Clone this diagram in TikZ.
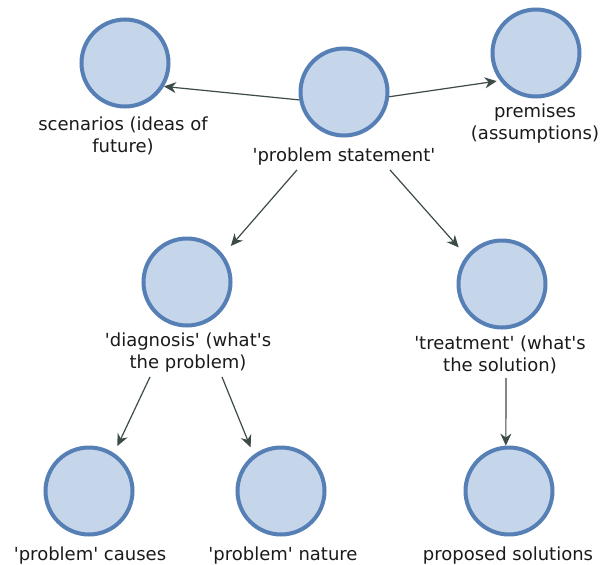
\documentclass[tikz,border=0pt]{standalone}
\usepackage{fontspec}
\setmainfont{DejaVu Sans}[Ligatures=TeXOff]
\usetikzlibrary{arrows.meta}
\definecolor{cfill}{HTML}{C5D5EA}
\definecolor{cdraw}{HTML}{5680B5}
\definecolor{carr}{HTML}{3C4A48}
\definecolor{ctxt}{HTML}{1A1A1A}
\tikzset{
  bubble/.style={circle, minimum size=87pt, inner sep=0pt, fill=cfill, draw=cdraw, line width=4pt},
  lbl/.style={align=center, font=\fontsize{18}{22}\selectfont, text=ctxt, inner sep=0pt},
  arr/.style={draw=carr, line width=1.2pt, -{Stealth[length=12pt,width=11pt]}}
}
\begin{document}
\begin{tikzpicture}[x=1pt,y=-1pt]
\useasboundingbox (0,0) rectangle (603,565);
% circles
\node[bubble] (scen) at (125,63) {};
\node[bubble] (ps) at (344,92) {};
\node[bubble] (prem) at (536,53) {};
\node[bubble] (diag) at (187,282) {};
\node[bubble] (treat) at (502,284) {};
\node[bubble] (caus) at (89,491) {};
\node[bubble] (nat) at (281,491) {};
\node[bubble] (prop) at (509,491) {};
% labels
\node[lbl] (scenl) at (123,136) {scenarios (ideas of\\future)};
\node[lbl] (psl) at (344,157) {'problem statement'};
\node[lbl] (preml) at (535,124) {premises\\(assumptions)};
\node[lbl] (diagl) at (188,353) {'diagnosis' (what's\\the problem)};
\node[lbl] (treatl) at (500,355) {'treatment' (what's\\the solution)};
\node[lbl] (causl) at (90,556) {'problem' causes};
\node[lbl] (natl) at (283,556) {'problem' nature};
\node[lbl] (propl) at (508,556) {proposed solutions};
% connectors
\draw[arr] (ps.190) -- (scen.-31);
\draw[arr] (ps.-6) -- ([shift={(-2pt,-2pt)}]prem.215);
\draw[arr] ([xshift=-47pt,yshift=-4pt]psl.south) -- ([shift={(8pt,8pt)}]diag.38);
\draw[arr] ([xshift=46pt,yshift=-4pt]psl.south) -- ([shift={(-8pt,8pt)}]treat.141);
\draw[arr] ([xshift=-38pt,yshift=-4pt]diagl.south) -- ([shift={(5pt,6pt)}]caus.59);
\draw[arr] ([xshift=34pt,yshift=-4pt]diagl.south) -- ([shift={(-5pt,6pt)}]nat.124);
\draw[arr] ([xshift=6pt,yshift=-4pt]treatl.south) -- (prop.94);
\end{tikzpicture}
\end{document}
